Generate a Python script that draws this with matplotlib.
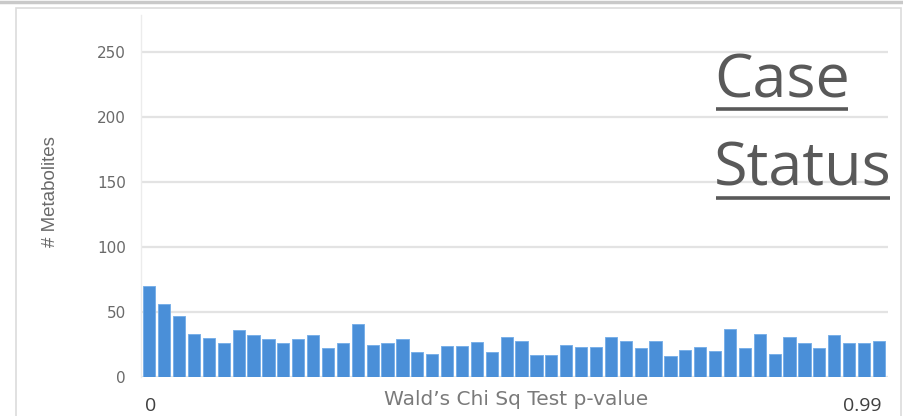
import matplotlib
matplotlib.use("Agg")
import matplotlib.pyplot as plt
from matplotlib.lines import Line2D
from matplotlib.patches import Rectangle

# Histogram of Wald chi-square p-values (50 bins)
counts = [70, 56, 47, 33, 30, 26, 36, 32, 29, 26,
          29, 32, 22, 26, 41, 25, 26, 29, 19, 18,
          24, 24, 27, 19, 31, 28, 17, 17, 25, 23,
          23, 31, 28, 22, 28, 16, 21, 23, 20, 37,
          22, 33, 18, 31, 26, 22, 32, 26, 26, 28]
y_ticks = [0, 50, 100, 150, 200, 250]
x_end_labels = ["0", "0.99"]
title_lines = ["Case", "Status"]
x_title = "Wald\u2019s Chi Sq Test p-value"
y_title = "# Metabolites"

W, H = 904, 416
fig = plt.figure(figsize=(W / 100, H / 100), dpi=100)
fig.patch.set_facecolor("white")

# outer panel frame and the strip above it
fig.add_artist(Rectangle((16 / W, -0.1), (901 - 16) / W, (H - 8) / H + 0.1,
                         transform=fig.transFigure, fill=False,
                         edgecolor="#dcdcdc", linewidth=1.2))
fig.add_artist(Line2D([0, 1], [1 - 1.5 / H, 1 - 1.5 / H],
                      transform=fig.transFigure, color="#c9c9c9", linewidth=2.5))

ax = fig.add_axes([141 / W, 39 / H, (888 - 141) / W, (377 - 15) / H])
x = list(range(len(counts)))
ax.bar(x, counts, width=0.82, color="#4a8fd8", edgecolor="#79b0e8",
       linewidth=0.7, zorder=2)
ax.set_xlim(-0.557, 49.61)
ax.set_ylim(0, 278.5)

ax.set_yticks(y_ticks)
ax.set_yticklabels([str(v) for v in y_ticks], color="#6a6a6a", fontsize=11,
                   family="DejaVu Sans")
ax.tick_params(axis="y", length=0, pad=11)
ax.set_xticks([])
ax.grid(axis="y", color="#e3e3e3", linewidth=1.6, zorder=0)
for s in ["top", "right", "bottom"]:
    ax.spines[s].set_visible(False)
ax.spines["left"].set_color("#ececec")
ax.spines["left"].set_linewidth(1.0)

fig.text(51 / W, 1 - 192 / H, y_title, rotation=90, ha="center", va="center",
         fontsize=13.5, color="#6a6a6a", family="Liberation Sans")
fig.text(516 / W, 1 - 405 / H, x_title, ha="center", va="baseline",
         fontsize=14.5, color="#7a7a7a", family="DejaVu Sans")
fig.text(151 / W, 1 - 406 / H, x_end_labels[0], ha="center", va="center",
         fontsize=14, color="#404040", family="Open Sans")
fig.text(862 / W, 1 - 406 / H, x_end_labels[1], ha="center", va="center",
         fontsize=14, color="#404040", family="Open Sans")

# underlined two-line heading
fig.canvas.draw()
renderer = fig.canvas.get_renderer()
for label, base_y, line_y in [(title_lines[0], 98, 109), (title_lines[1], 185, 198)]:
    t = fig.text(714 / W, 1 - base_y / H, label, ha="left", va="baseline",
                 fontsize=44, color="#595959", family="Open Sans")
    bb = t.get_window_extent(renderer)
    fig.add_artist(Line2D([716 / W, (bb.x1 - 2) / W], [1 - line_y / H, 1 - line_y / H],
                          transform=fig.transFigure, color="#595959",
                          linewidth=2.6, solid_capstyle="butt"))

fig.savefig("out.png", dpi=100)
